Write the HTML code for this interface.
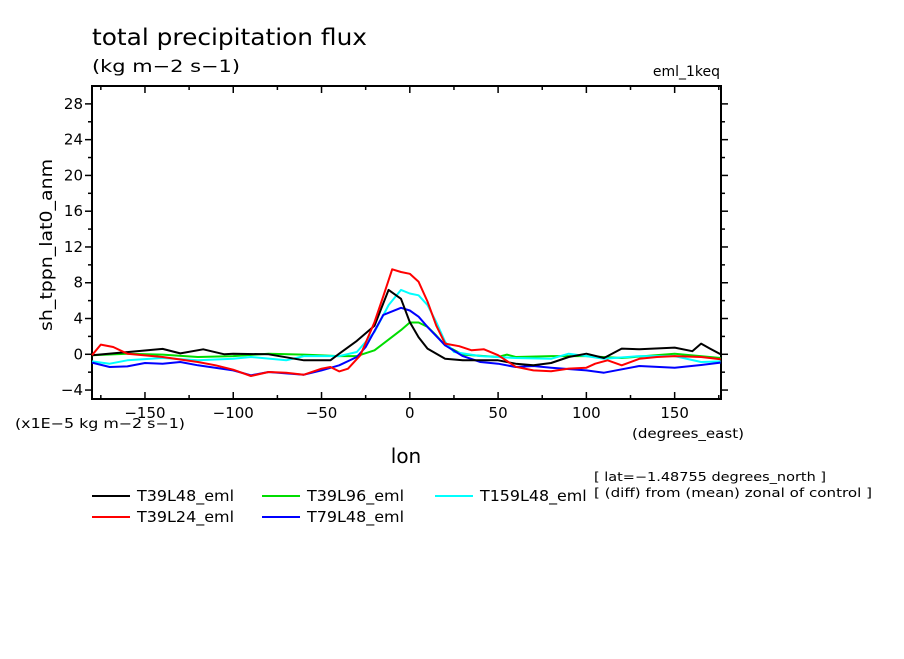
<!DOCTYPE html>
<html><head><meta charset="utf-8"><style>
body{margin:0;background:#fff;}
svg text{font-family:"DejaVu Sans","Liberation Sans",sans-serif;fill:#000;}
</style></head><body>
<svg id="chart" width="904" height="654" xmlns="http://www.w3.org/2000/svg">
<rect width="904" height="654" fill="#fff"/>
<text x="92" y="45" font-size="23" textLength="275" lengthAdjust="spacingAndGlyphs">total precipitation flux</text>
<text x="92" y="72" font-size="17" textLength="148" lengthAdjust="spacingAndGlyphs">(kg m−2 s−1)</text>
<text x="720" y="76" font-size="14" text-anchor="end">eml_1keq</text>
<text transform="translate(52,245) rotate(-90)" font-size="17" text-anchor="middle" textLength="172" lengthAdjust="spacingAndGlyphs">sh_tppn_lat0_anm</text>
<text x="15" y="428" font-size="13" textLength="170" lengthAdjust="spacingAndGlyphs">(x1E−5 kg m−2 s−1)</text>
<text x="632" y="438" font-size="13" textLength="112" lengthAdjust="spacingAndGlyphs">(degrees_east)</text>
<text x="406" y="463" font-size="20" text-anchor="middle">lon</text>
<text x="594" y="481" font-size="12" textLength="232" lengthAdjust="spacingAndGlyphs">[ lat=−1.48755 degrees_north ]</text>
<text x="594" y="497" font-size="12" textLength="278" lengthAdjust="spacingAndGlyphs">[ (diff) from (mean) zonal of control ]</text>
<g id="axes"></g>
<g id="series"></g>
<g id="legend"></g>
</svg>
<script>
const xTicks=[-150,-100,-50,0,50,100,150];
const yTicks=[-4,0,4,8,12,16,20,24,28];
const seriesNames=["T39L48_eml","T39L24_eml","T39L96_eml","T79L48_eml","T159L48_eml"];
const seriesColors=["#000","#f00","#0d0","#00f","#0ff"];
const blackLon=[-180,-140,-130,-117,-105,-100,-80,-60,-45,-40,-30,-20,-12,-5,0,5,10,20,30,50,60,70,80,90,100,110,120,130,150,160,165,170,176];
const blackVal=[-0.1,0.6,0.1,0.56,0,0.07,0,-0.67,-0.67,0.07,1.5,3.2,7.2,6.2,3.6,1.9,0.64,-0.5,-0.67,-0.67,-1.05,-1.23,-0.97,-0.3,0.07,-0.41,0.64,0.56,0.75,0.34,1.2,0.64,0];
const redLon=[-180,-175,-168,-160,-140,-120,-110,-100,-90,-80,-70,-60,-50,-45,-40,-35,-28,-20,-15,-10,-5,0,5,10,15,20,28,35,42,50,60,70,80,90,100,105,112,120,130,140,150,165,176];
const redVal=[-0.1,1.08,0.82,0.07,-0.3,-0.86,-1.23,-1.72,-2.43,-1.98,-2.06,-2.28,-1.61,-1.42,-1.91,-1.61,-0.1,3.6,6.5,9.5,9.2,9.0,8.1,5.9,3.2,1.2,0.9,0.45,0.56,-0.1,-1.4,-1.8,-1.9,-1.6,-1.5,-1.05,-0.67,-1.23,-0.5,-0.3,-0.2,-0.3,-0.56];
const greenLon=[-180,-160,-140,-120,-100,-80,-60,-40,-30,-20,-10,-5,0,5,10,15,20,30,50,55,60,80,100,120,150,176];
const greenVal=[-0.1,0.07,-0.03,-0.3,-0.2,0.07,-0.03,-0.2,-0.2,0.45,1.95,2.7,3.55,3.55,3.06,2.1,1.0,-0.03,-0.3,-0.03,-0.3,-0.2,-0.2,-0.41,0.07,-0.41];
const blueLon=[-180,-170,-160,-150,-140,-130,-120,-100,-90,-80,-60,-50,-40,-30,-25,-15,-5,0,5,10,20,30,40,50,60,70,80,100,110,130,150,165,176];
const blueVal=[-0.93,-1.42,-1.35,-0.97,-1.05,-0.86,-1.23,-1.8,-2.35,-1.98,-2.28,-1.8,-1.23,-0.3,0.82,4.4,5.2,4.9,4.2,3.06,1.0,-0.2,-0.86,-1.05,-1.42,-1.31,-1.5,-1.8,-2.06,-1.31,-1.5,-1.2,-0.93];
const cyanLon=[-180,-170,-160,-140,-120,-100,-90,-70,-60,-40,-30,-20,-12,-5,0,5,10,15,20,25,40,60,80,90,100,110,130,150,165,176];
const cyanVal=[-0.8,-1.05,-0.67,-0.41,-0.67,-0.5,-0.3,-0.67,-0.2,-0.2,0.26,2.5,5.5,7.2,6.8,6.6,5.5,3.6,1.4,0.26,-0.2,-0.41,-0.5,0.07,-0.2,-0.5,-0.2,-0.2,-0.86,-0.8];

const NS="http://www.w3.org/2000/svg";
const L=92,R=721,T=86,B=399,xMin=-180,xMax=176.25,yMin=-5,yMax=30;
const sx=v=>L+(v-xMin)/(xMax-xMin)*(R-L);
const sy=v=>B-(v-yMin)/(yMax-yMin)*(B-T);
function mk(tag,attrs,parent){const e=document.createElementNS(NS,tag);for(const k in attrs)e.setAttribute(k,attrs[k]);parent.appendChild(e);return e;}
const axes=document.getElementById('axes');
const frame=mk('rect',{x:L,y:T,width:R-L,height:B-T,fill:'none',stroke:'#000','stroke-width':2},axes);


for(let v=-175;v<=175;v+=25){const x=sx(v);const major=v%50===0;
 const l=major?7:4;
 const t1=mk('line',{x1:x,x2:x,y1:B,y2:B-l,stroke:'#000','stroke-width':1.5},axes);
 
 
 const t2=mk('line',{x1:x,x2:x,y1:T,y2:T+l,stroke:'#000','stroke-width':1.5},axes);
 
 }
xTicks.forEach(v=>{const t=mk('text',{x:sx(v),y:418,'font-size':15,'text-anchor':'middle'},axes);t.textContent=v<0?'−'+(-v):String(v);
 
 });
for(let v=-4;v<=28;v+=2){const y=sy(v);const major=v%4===0;const l=major?7:4;
 const t1=mk('line',{x1:L-l,x2:L,y1:y,y2:y,stroke:'#000','stroke-width':1.5},axes);
 
 
 const t2=mk('line',{x1:R,x2:R+l,y1:y,y2:y,stroke:'#000','stroke-width':1.5},axes);
 
 }
yTicks.forEach(v=>{const t=mk('text',{x:83,y:sy(v)+5,'font-size':15,'text-anchor':'end'},axes);t.textContent=v<0?'−'+(-v):String(v);
 
 });
const ser=document.getElementById('series');
const data=[[blackLon,blackVal],[redLon,redVal],[greenLon,greenVal],[blueLon,blueVal],[cyanLon,cyanVal]];
const order=[2,4,3,0,1];
order.forEach(i=>{const [lx,ly]=data[i];
 const p=mk('polyline',{points:lx.map((x,j)=>sx(x).toFixed(1)+','+sy(ly[j]).toFixed(1)).join(' '),fill:'none',stroke:seriesColors[i],'stroke-width':2,'stroke-linejoin':'round'},ser);
 
 });
const leg=document.getElementById('legend');
const legPos=[[92,496],[92,517],[262,496],[262,517],[435,496]];
seriesNames.forEach((n,i)=>{const [x,y]=legPos[i];
 const g=mk('g',{},leg);
 
 
 mk('line',{x1:x,x2:x+38,y1:y,y2:y,stroke:seriesColors[i],'stroke-width':2},g);
 const t=mk('text',{x:x+45,y:y+5,'font-size':15,textLength:n.length*9.7,lengthAdjust:'spacingAndGlyphs'},g);t.textContent=n;});
</script>
</body></html>
